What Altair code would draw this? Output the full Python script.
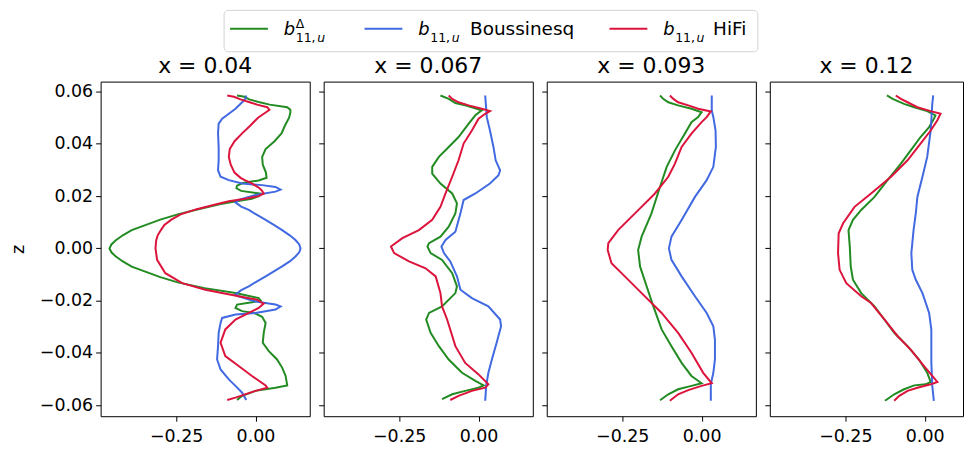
import altair as alt
import pandas as pd

FONT = "DejaVu Sans"
PANEL_TITLES = ["x = 0.04", "x = 0.067", "x = 0.093", "x = 0.12"]
SERIES = ["b_delta", "boussinesq", "hifi"]
COLORS = ["forestgreen", "royalblue", "crimson"]
LEGEND_WORDS = ["", "Boussinesq", "HiFi"]
X_TICKS = [-0.25, 0.0]
Z_TICKS = [-0.06, -0.04, -0.02, 0.0, 0.02, 0.04, 0.06]
X_DOMAIN = [-0.488, 0.171]
X_DOMAIN_LAST = [-0.488, 0.1208]
Z_DOMAIN = [-0.0642, 0.0638]

# ---------------- panel 1 : x = 0.04 ----------------
P1_GREEN_Z = [0.0585, 0.058, 0.057, 0.056, 0.055, 0.054, 0.053, 0.052, 0.050, 0.047,
              0.044, 0.041, 0.038, 0.035, 0.032, 0.029, 0.027, 0.026, 0.025, 0.024,
              0.023, 0.022, 0.021, 0.020, 0.019, 0.018, 0.017, 0.015, 0.013, 0.011,
              0.009, 0.007, 0.005, 0.003, 0.0015, 0.0,
              -0.0015, -0.003, -0.005, -0.007, -0.009, -0.011, -0.013, -0.0152, -0.0171, -0.019,
              -0.0199, -0.0206, -0.0215, -0.0228, -0.024, -0.0247, -0.0262, -0.0285, -0.0323, -0.0361,
              -0.0393, -0.0425, -0.0456, -0.0488, -0.0524, -0.0533, -0.0545, -0.0564, -0.058]
P1_GREEN_V = [-0.058, -0.035, -0.020, 0.010, 0.045, 0.100, 0.110, 0.110, 0.106, 0.093,
              0.082, 0.060, 0.032, 0.021, 0.023, 0.033, 0.035, 0.010, -0.040, -0.058,
              -0.060, -0.045, 0.015, 0.010, -0.012, -0.060, -0.110, -0.180, -0.245, -0.300,
              -0.345, -0.390, -0.418, -0.441, -0.454, -0.460,
              -0.454, -0.441, -0.418, -0.390, -0.345, -0.300, -0.245, -0.160, -0.063, 0.010,
              0.016, -0.011, -0.058, -0.063, -0.042, -0.005, 0.021, 0.032, 0.026, 0.023,
              0.042, 0.068, 0.084, 0.095, 0.100, 0.063, 0.000, -0.042, -0.058]

P1_BLUE_Z = [0.0585, 0.0572, 0.0559, 0.0534, 0.0515, 0.0496, 0.0477, 0.0439, 0.0388, 0.0337,
             0.0299, 0.0274, 0.0261, 0.0248, 0.0242, 0.0235, 0.0225, 0.0217, 0.0204, 0.0185,
             0.0176, 0.0160, 0.0147, 0.0128, 0.0109, 0.0090, 0.0070, 0.0050, 0.0032, 0.0015, 0.0,
             -0.0015, -0.0031, -0.0050, -0.0069, -0.0088, -0.0107, -0.0126, -0.0145, -0.0160,
             -0.0177, -0.0183, -0.0203, -0.0215, -0.0222, -0.0234,
             -0.0247, -0.0253, -0.0266, -0.0285, -0.0323, -0.0374, -0.0425, -0.0463, -0.0501, -0.0526,
             -0.0552, -0.058]
P1_BLUE_V = [-0.029, -0.032, -0.042, -0.063, -0.084, -0.105, -0.116, -0.118, -0.116, -0.116,
             -0.118, -0.110, -0.084, -0.042, 0.021, 0.063, 0.079, 0.063, 0.000, -0.053,
             -0.063, -0.045, -0.021, 0.005, 0.032, 0.058, 0.084, 0.108, 0.126, 0.138, 0.142,
             0.138, 0.126, 0.108, 0.084, 0.058, 0.032, 0.005, -0.021, -0.045,
             -0.063, -0.053, 0.000, 0.063, 0.079, 0.063,
             0.000, -0.063, -0.105, -0.110, -0.116, -0.118, -0.121, -0.110, -0.084, -0.063,
             -0.042, -0.029]

P1_RED_Z = [0.0585, 0.058, 0.057, 0.056, 0.055, 0.054, 0.053, 0.052, 0.050, 0.047,
            0.044, 0.041, 0.038, 0.035, 0.032, 0.029, 0.027, 0.026, 0.025, 0.024,
            0.023, 0.022, 0.021, 0.020, 0.019, 0.018, 0.017, 0.015, 0.013, 0.011,
            0.009, 0.007, 0.005, 0.003, 0.0,
            -0.0044, -0.0095, -0.0133, -0.0158, -0.0183, -0.0196, -0.0211, -0.0228, -0.0247, -0.0272,
            -0.031, -0.0361, -0.0412, -0.045, -0.0488, -0.0524, -0.0533, -0.0545, -0.0571, -0.058]
P1_RED_V = [-0.089, -0.068, -0.047, -0.021, 0.005, 0.037, 0.044, 0.032, 0.008, -0.016,
            -0.042, -0.066, -0.081, -0.084, -0.078, -0.066, -0.047, -0.032, -0.013, 0.000,
            0.013, 0.021, 0.026, 0.010, -0.032, -0.084, -0.120, -0.185, -0.236, -0.265,
            -0.287, -0.298, -0.308, -0.313, -0.315,
            -0.310, -0.284, -0.231, -0.158, -0.053, 0.005, 0.026, 0.010, -0.021, -0.063,
            -0.095, -0.110, -0.095, -0.053, -0.011, 0.032, 0.037, 0.000, -0.063, -0.089]

# ---------------- panel 2 : x = 0.067 ----------------
P2_GREEN_Z = [0.0585, 0.0572, 0.0556, 0.0547, 0.0528, 0.0509, 0.0477, 0.0426, 0.0388, 0.0350,
              0.0312, 0.0286, 0.0248, 0.0210, 0.0172, 0.0134, 0.0083, 0.0045, 0.0020, 0.0007,
              -0.0018, -0.0044, -0.0095, -0.0145, -0.0171, -0.0222, -0.0247, -0.0272, -0.0323, -0.0374,
              -0.0425, -0.0476, -0.0507, -0.0524, -0.0533, -0.0545, -0.0558, -0.0577]
P2_GREEN_V = [-0.120, -0.094, -0.073, -0.042, 0.010, -0.010, -0.031, -0.063, -0.094, -0.125,
              -0.146, -0.146, -0.120, -0.083, -0.068, -0.073, -0.094, -0.120, -0.156, -0.161,
              -0.151, -0.115, -0.083, -0.068, -0.073, -0.115, -0.156, -0.165, -0.151, -0.125,
              -0.094, -0.052, -0.010, 0.016, 0.000, -0.042, -0.083, -0.115]

P2_BLUE_Z = [0.0585, 0.0502, 0.0451, 0.0388, 0.0337, 0.0299, 0.0280, 0.0248, 0.0210, 0.0185,
             0.0134, 0.0064, 0.0032, 0.0007, -0.0018, -0.0050, -0.0107, -0.0158, -0.0190, -0.0222,
             -0.0272, -0.0298, -0.0361, -0.0425, -0.0476, -0.0526, -0.0583]
P2_BLUE_V = [0.021, 0.026, 0.036, 0.047, 0.054, 0.068, 0.063, 0.036, -0.010, -0.047,
             -0.057, -0.073, -0.104, -0.117, -0.109, -0.089, -0.068, -0.057, -0.021, 0.031,
             0.068, 0.071, 0.057, 0.042, 0.031, 0.024, 0.021]

P2_RED_Z = [0.0585, 0.0572, 0.0559, 0.0547, 0.0534, 0.0525, 0.0515, 0.0496, 0.0451, 0.0401,
            0.0337, 0.0274, 0.0210, 0.0159, 0.0109, 0.0070, 0.0039, 0.0007, -0.0018, -0.0050,
            -0.0076, -0.0107, -0.0171, -0.0222, -0.0272, -0.0374, -0.0438, -0.0482, -0.0520, -0.0533,
            -0.0545, -0.0564, -0.0580]
P2_RED_V = [-0.094, -0.083, -0.063, -0.031, 0.010, 0.036, 0.021, 0.000, -0.021, -0.047,
            -0.063, -0.083, -0.104, -0.120, -0.146, -0.188, -0.240, -0.276, -0.266, -0.219,
            -0.167, -0.135, -0.120, -0.115, -0.099, -0.073, -0.042, 0.000, 0.031, 0.021,
            -0.021, -0.063, -0.089]

# ---------------- panel 3 : x = 0.093 ----------------
P3_GREEN_Z = [0.0585, 0.0572, 0.0559, 0.0547, 0.0534, 0.0521, 0.0502, 0.0483, 0.0439, 0.0375,
              0.0312, 0.0236, 0.0134, 0.0045, -0.0006, -0.0069, -0.0146, -0.0222, -0.0310, -0.0374,
              -0.0438, -0.0488, -0.0516, -0.0526, -0.0539, -0.0558, -0.0581]
P3_GREEN_V = [-0.131, -0.121, -0.105, -0.074, -0.032, 0.000, -0.011, -0.032, -0.053, -0.084,
              -0.110, -0.131, -0.158, -0.189, -0.200, -0.194, -0.173, -0.152, -0.126, -0.095,
              -0.063, -0.032, 0.000, -0.032, -0.074, -0.105, -0.131]

P3_BLUE_Z = [0.0585, 0.0528, 0.0502, 0.0451, 0.0388, 0.0312, 0.0261, 0.0197, 0.0109, 0.0045,
             0.0000, -0.0044, -0.0107, -0.0183, -0.0247, -0.0298, -0.0349, -0.0425, -0.0476, -0.0520,
             -0.0583]
P3_BLUE_V = [0.032, 0.032, 0.037, 0.044, 0.045, 0.037, 0.016, -0.021, -0.063, -0.095,
             -0.103, -0.095, -0.063, -0.021, 0.016, 0.037, 0.042, 0.042, 0.037, 0.029,
             0.029]

P3_RED_Z = [0.0585, 0.0572, 0.0559, 0.0547, 0.0534, 0.0524, 0.0502, 0.0483, 0.0439, 0.0388,
            0.0324, 0.0274, 0.0210, 0.0134, 0.0070, 0.0020, -0.0006, -0.0057, -0.0107, -0.0171,
            -0.0247, -0.0323, -0.0399, -0.0476, -0.0516, -0.0526, -0.0542, -0.0558, -0.0583]
P3_RED_V = [-0.100, -0.089, -0.074, -0.042, -0.011, 0.029, 0.016, 0.000, -0.032, -0.063,
            -0.084, -0.105, -0.147, -0.210, -0.263, -0.294, -0.296, -0.284, -0.242, -0.189,
            -0.126, -0.074, -0.032, 0.005, 0.032, 0.000, -0.042, -0.074, -0.100]

# ---------------- panel 4 : x = 0.12 ----------------
P4_GREEN_Z = [0.0585, 0.0572, 0.0553, 0.0540, 0.0525, 0.0509, 0.0496, 0.0464, 0.0426, 0.0375,
              0.0324, 0.0261, 0.0197, 0.0147, 0.0109, 0.0070, 0.0007, -0.0069, -0.0120, -0.0171,
              -0.0222, -0.0272, -0.0323, -0.0374, -0.0425, -0.0476, -0.0511, -0.0520, -0.0524, -0.0539,
              -0.0558, -0.0583]
P4_GREEN_V = [-0.119, -0.101, -0.065, -0.033, 0.008, 0.034, 0.029, 0.014, -0.013, -0.044,
              -0.075, -0.117, -0.158, -0.200, -0.226, -0.240, -0.236, -0.233, -0.226, -0.200,
              -0.158, -0.127, -0.096, -0.054, -0.018, 0.008, 0.019, 0.003, -0.033, -0.065,
              -0.096, -0.125]

P4_BLUE_Z = [0.0585, 0.0553, 0.0451, 0.0350, 0.0274, 0.0197, 0.0134, 0.0070, -0.0018, -0.0082,
             -0.0120, -0.0171, -0.0247, -0.0310, -0.0438, -0.0526, -0.0583]
P4_BLUE_V = [0.027, 0.024, 0.019, 0.008, -0.007, -0.023, -0.028, -0.035, -0.042, -0.039,
             -0.028, -0.007, 0.014, 0.021, 0.021, 0.024, 0.029]

P4_RED_Z = [0.0585, 0.0572, 0.0559, 0.0540, 0.0525, 0.0515, 0.0490, 0.0451, 0.0401, 0.0337,
            0.0274, 0.0210, 0.0159, 0.0096, 0.0058, -0.0018, -0.0082, -0.0133, -0.0183, -0.0209,
            -0.0272, -0.0336, -0.0387, -0.0450, -0.0488, -0.0511, -0.0520, -0.0533, -0.0545, -0.0564,
            -0.0583]
P4_RED_V = [-0.091, -0.075, -0.054, -0.023, 0.019, 0.050, 0.040, 0.019, -0.013, -0.054,
            -0.106, -0.169, -0.221, -0.257, -0.271, -0.273, -0.268, -0.247, -0.200, -0.169,
            -0.127, -0.085, -0.044, -0.002, 0.024, 0.040, 0.019, -0.023, -0.054, -0.080,
            -0.096]

CURVES = [
    [(P1_GREEN_Z, P1_GREEN_V), (P1_BLUE_Z, P1_BLUE_V), (P1_RED_Z, P1_RED_V)],
    [(P2_GREEN_Z, P2_GREEN_V), (P2_BLUE_Z, P2_BLUE_V), (P2_RED_Z, P2_RED_V)],
    [(P3_GREEN_Z, P3_GREEN_V), (P3_BLUE_Z, P3_BLUE_V), (P3_RED_Z, P3_RED_V)],
    [(P4_GREEN_Z, P4_GREEN_V), (P4_BLUE_Z, P4_BLUE_V), (P4_RED_Z, P4_RED_V)],
]

PLOT_W = 210
PLOT_W_LAST = 194
PLOT_H = 336


def panel(i):
    last = i == len(PANEL_TITLES) - 1
    first = i == 0
    xdom = X_DOMAIN_LAST if last else X_DOMAIN
    xaxis = alt.Axis(values=X_TICKS, format=".2f", title=None, labelPadding=6)
    if first:
        yaxis = alt.Axis(values=Z_TICKS, format=".2f", title="z", titlePadding=12)
    else:
        yaxis = alt.Axis(values=Z_TICKS, labels=False, title=None)
    layers = []
    for (zs, vs), color in zip(CURVES[i], COLORS):
        assert len(zs) == len(vs)
        df = pd.DataFrame({"z": zs, "v": vs, "k": list(range(len(zs)))})
        layers.append(
            alt.Chart(df).mark_line(color=color, strokeWidth=2).encode(
                x=alt.X("v:Q", scale=alt.Scale(domain=xdom, nice=False, zero=False), axis=xaxis),
                y=alt.Y("z:Q", scale=alt.Scale(domain=Z_DOMAIN, nice=False, zero=False), axis=yaxis),
                order=alt.Order("k:Q"),
            )
        )
    return alt.layer(*layers).properties(
        width=PLOT_W_LAST if last else PLOT_W,
        height=PLOT_H,
        title=alt.TitleParams(PANEL_TITLES[i], anchor="middle"),
    )


# ---------------- hand-made legend (math-style labels) ----------------
# x positions are relative to the left edge of the first panel's plot area
LEG_BOX = (124, 660)
LEG_LINE_Y = 19
LEG_LINE_X = [130, 265, 511]
LEG_LINE_LEN = 38
LEG_LABEL_DX = 54
LEG_WORD_DX = [0, 52, 50]


def txt(s, x, y, size, style="normal"):
    return alt.Chart(pd.DataFrame({"t": [s]})).mark_text(
        align="left", baseline="alphabetic", fontSize=size, fontStyle=style, color="black"
    ).encode(text="t:N", x=alt.value(x), y=alt.value(y))


def legend_chart():
    layers = [
        alt.Chart(pd.DataFrame({"t": [0]})).mark_rect(
            fill="white", stroke="#d3d3d3", strokeWidth=1, cornerRadius=4
        ).encode(x=alt.value(LEG_BOX[0]), x2=alt.value(LEG_BOX[1]), y=alt.value(0.5), y2=alt.value(42))
    ]
    for j, color in enumerate(COLORS):
        x0 = LEG_LINE_X[j]
        layers.append(
            alt.Chart(pd.DataFrame({"t": [0]})).mark_rule(color=color, strokeWidth=2).encode(
                x=alt.value(x0), x2=alt.value(x0 + LEG_LINE_LEN), y=alt.value(LEG_LINE_Y)
            )
        )
        bx = x0 + LEG_LABEL_DX
        layers.append(txt("b", bx, LEG_LINE_Y + 6, 18, "italic"))
        if j == 0:
            layers.append(txt("Δ", bx + 12, LEG_LINE_Y - 0.5, 12.5))
        layers.append(txt("11,", bx + 12, LEG_LINE_Y + 13, 12.5))
        layers.append(txt("u", bx + 33.5, LEG_LINE_Y + 13, 12.5, "italic"))
        if LEGEND_WORDS[j]:
            layers.append(txt(LEGEND_WORDS[j], bx + LEG_WORD_DX[j], LEG_LINE_Y + 6, 18.5))
    return alt.layer(*layers).properties(
        width=662, height=43, view=alt.ViewBackground(stroke="transparent")
    )


panels = alt.hconcat(*[panel(i) for i in range(4)], spacing=7).resolve_scale(
    x="independent", y="independent"
)

chart = (
    alt.vconcat(legend_chart(), panels, spacing=0)
    .properties(padding=0)
    .configure(font=FONT)
    .configure_view(stroke="black", strokeWidth=1)
    .configure_axis(
        grid=False,
        domain=False,
        tickColor="black",
        tickSize=5,
        tickWidth=1,
        labelFontSize=17.5,
        labelColor="black",
        labelPadding=3,
        titleFontSize=17.5,
        titleFontWeight="normal",
        titleColor="black",
    )
    .configure_title(fontSize=22, fontWeight="normal", color="black", offset=4)
)

chart.save("out.html", embed_options={"renderer": "svg", "actions": False})
